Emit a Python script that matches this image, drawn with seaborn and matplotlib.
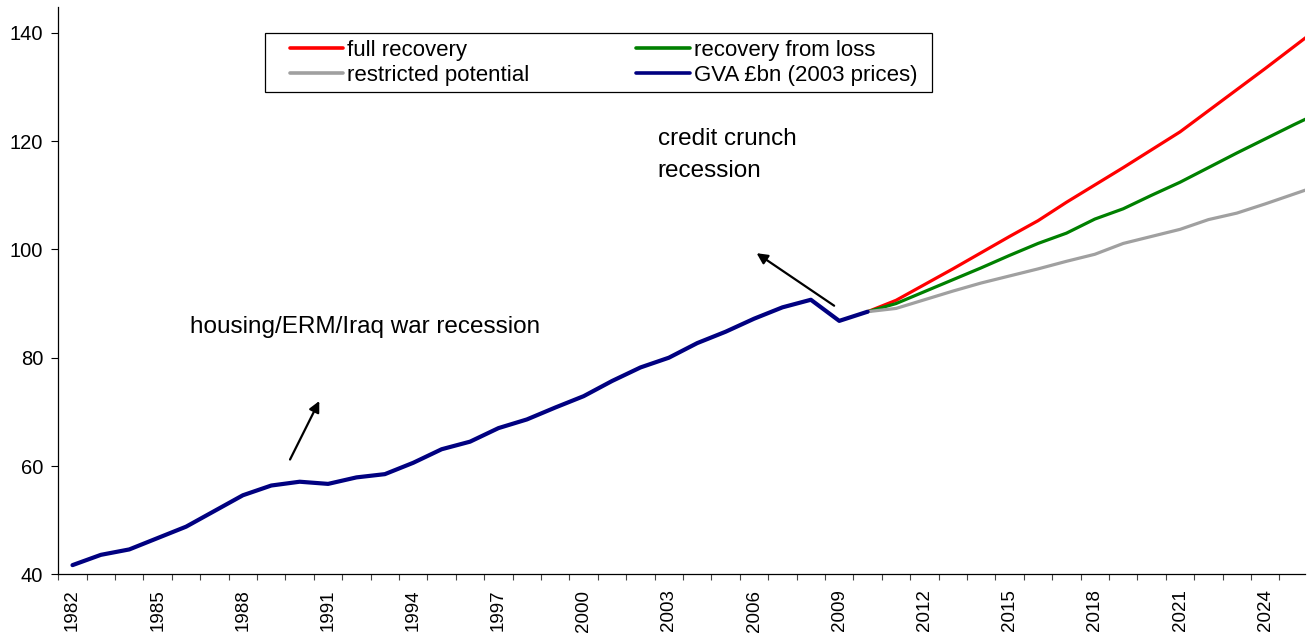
import numpy as np
import pandas as pd
import matplotlib
matplotlib.use("Agg")
import matplotlib.pyplot as plt
from matplotlib.patches import Rectangle
import seaborn as sns

# Historical gross value added, £bn at 2003 prices
hist_years = list(range(1982, 2011))
gva = [41.7, 43.6, 44.6, 46.7, 48.8, 51.7, 54.6, 56.4, 57.1, 56.7,
       57.9, 58.5, 60.6, 63.1, 64.5, 67.0, 68.6, 70.8, 72.9, 75.7,
       78.2, 80.0, 82.7, 84.8, 87.2, 89.3, 90.7, 86.8, 88.5]

# Projection scenarios from 2010
proj_years = list(range(2010, 2027))
full_recovery = [88.5, 90.6, 93.5, 96.4, 99.4, 102.4, 105.3, 108.7, 111.9,
                 115.1, 118.4, 121.7, 125.6, 129.5, 133.4, 137.4, 141.4]
recovery_from_loss = [88.5, 90.0, 92.2, 94.4, 96.6, 98.9, 101.1, 103.0, 105.6,
                      107.5, 110.0, 112.4, 115.1, 117.8, 120.4, 123.0, 125.5]
restricted_potential = [88.5, 89.1, 90.7, 92.3, 93.8, 95.1, 96.4, 97.8, 99.1,
                        101.1, 102.4, 103.7, 105.5, 106.7, 108.4, 110.2, 112.0]

label_years = list(range(1982, 2025, 3))
y_ticks = [40, 60, 80, 100, 120, 140]

sns.set_style("ticks")
plt.rcParams["font.family"] = ["Liberation Sans", "DejaVu Sans"]
plt.rcParams["text.color"] = "black"
plt.rcParams["xtick.color"] = "black"
plt.rcParams["ytick.color"] = "black"

fig = plt.figure(figsize=(13.13, 6.39), dpi=100)
ax = fig.add_axes([0.0444, 0.1012, 0.9495, 0.8882])

hist = pd.DataFrame({"year": hist_years, "gva": gva})
proj = pd.DataFrame({"year": proj_years, "full": full_recovery,
                     "loss": recovery_from_loss, "restricted": restricted_potential})

sns.lineplot(data=proj, x="year", y="full", color="#ff0000", lw=2.3,
             label="full recovery", ax=ax)
sns.lineplot(data=proj, x="year", y="loss", color="#008000", lw=2.3,
             label="recovery from loss", ax=ax)
sns.lineplot(data=proj, x="year", y="restricted", color="#a0a0a0", lw=2.3,
             label="restricted potential", ax=ax)
sns.lineplot(data=hist, x="year", y="gva", color="#000080", lw=3.0,
             label="GVA £bn (2003 prices)", ax=ax)

ax.set_xlim(1981.5, 2025.4)
ax.set_ylim(40, 144.8)
ax.set_xlabel("")
ax.set_ylabel("")

# category boundaries carry the tick marks, labels sit at the year centres
ax.set_xticks(label_years)
ax.set_xticklabels([str(y) for y in label_years], rotation=90, fontsize=13.5)
ax.set_xticks(np.arange(1981.5, 2025.5, 1.0), minor=True)
ax.tick_params(axis="x", which="major", length=0, pad=11)
ax.tick_params(axis="x", which="minor", length=4.5, width=0.8, color="#444444",
               direction="out")
ax.set_yticks(y_ticks)
ax.set_yticklabels([str(v) for v in y_ticks], fontsize=14.5)
ax.tick_params(axis="y", length=4.8, width=0.8, direction="out", pad=6)

for side in ("top", "right"):
    ax.spines[side].set_visible(False)
for side in ("left", "bottom"):
    ax.spines[side].set_color("black")
    ax.spines[side].set_linewidth(0.9)

# legend box outline
ax.add_patch(Rectangle((0.1658, 0.8499), 0.535, 0.1039, transform=ax.transAxes,
                       facecolor="white", edgecolor="black", lw=0.9,
                       zorder=4.9, clip_on=False))

handles, labels = ax.get_legend_handles_labels()
order = [0, 2, 1, 3]
leg = ax.legend([handles[i] for i in order], [labels[i] for i in order],
                ncol=2, loc="center left", mode="expand",
                bbox_to_anchor=(0.1859, 0.8573, 0.5029, 0.0881),
                borderaxespad=0, borderpad=0, fontsize=16, frameon=False,
                handlelength=2.4, handletextpad=0.18, labelspacing=0.18,
                columnspacing=1.0)
for line in leg.get_lines():
    line.set_linewidth(2.6)

ax.text(1986.14, 85.7, "housing/ERM/Iraq war recession", fontsize=17.5,
        va="center", ha="left")
ax.text(2002.6, 117.4, "credit crunch\nrecession", fontsize=17.5,
        va="center", ha="left", linespacing=1.6)

arrow = dict(arrowstyle="-|>", color="black", lw=1.6, mutation_scale=16,
             shrinkA=0, shrinkB=0)
ax.annotate("", xy=(1990.69, 72.0), xytext=(1989.66, 61.2), arrowprops=arrow)
ax.annotate("", xy=(2006.09, 99.3), xytext=(2008.82, 89.6), arrowprops=arrow)

fig.savefig("out.png", dpi=100)
